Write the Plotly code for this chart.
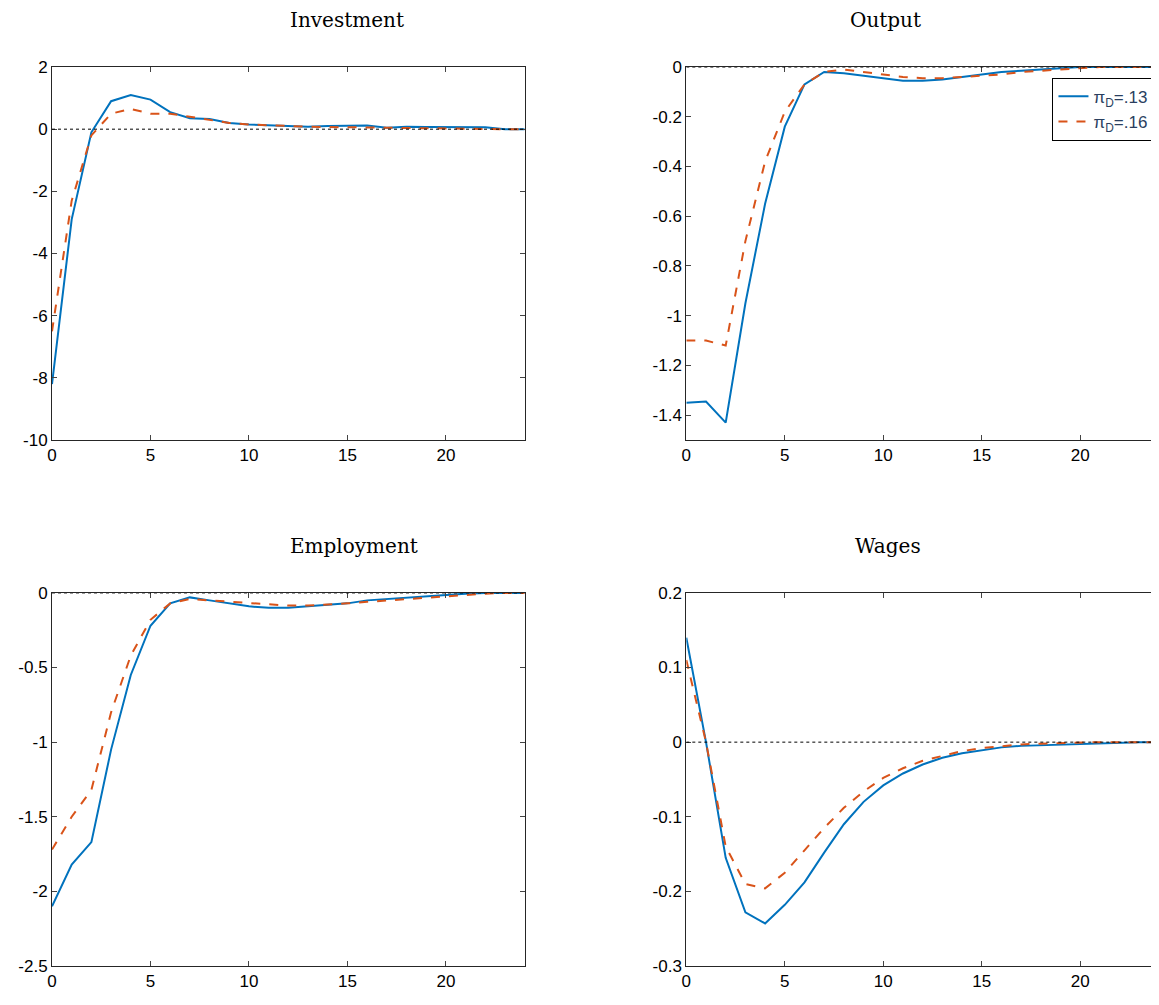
import plotly.graph_objects as go

t = list(range(25))

inv_13 = [-8.2, -2.9, -0.1, 0.9, 1.1, 0.95, 0.55, 0.35, 0.33, 0.2, 0.15, 0.12, 0.1, 0.08, 0.1, 0.12, 0.12, 0.05, 0.08, 0.07, 0.07, 0.07, 0.06, 0.0, 0.0]
inv_16 = [-6.5, -2.3, -0.2, 0.5, 0.65, 0.5, 0.5, 0.4, 0.28, 0.2, 0.15, 0.12, 0.1, 0.08, 0.07, 0.06, 0.05, 0.04, 0.04, 0.03, 0.02, 0.02, 0.01, 0.0, 0.0]
out_13 = [-1.35, -1.345, -1.43, -0.95, -0.55, -0.24, -0.07, -0.02, -0.025, -0.035, -0.045, -0.055, -0.055, -0.05, -0.04, -0.03, -0.02, -0.015, -0.01, -0.005, 0, 0, 0, 0, 0]
out_16 = [-1.1, -1.1, -1.12, -0.7, -0.38, -0.18, -0.07, -0.02, -0.01, -0.02, -0.03, -0.04, -0.045, -0.045, -0.04, -0.035, -0.03, -0.02, -0.015, -0.01, -0.005, 0, 0, 0, 0]
emp_13 = [-2.1, -1.82, -1.67, -1.05, -0.55, -0.22, -0.07, -0.03, -0.05, -0.07, -0.09, -0.1, -0.1, -0.09, -0.08, -0.07, -0.05, -0.04, -0.03, -0.02, -0.01, -0.005, 0, 0, 0]
emp_16 = [-1.72, -1.5, -1.32, -0.8, -0.42, -0.18, -0.07, -0.04, -0.05, -0.06, -0.07, -0.08, -0.085, -0.085, -0.08, -0.07, -0.06, -0.05, -0.04, -0.03, -0.02, -0.01, -0.005, 0, 0]
wag_13 = [0.14, 0.0, -0.155, -0.228, -0.243, -0.218, -0.188, -0.148, -0.11, -0.08, -0.058, -0.042, -0.03, -0.021, -0.015, -0.011, -0.007, -0.005, -0.004, -0.003, -0.002, -0.002, -0.001, 0, 0]
wag_16 = [0.11, 0.0, -0.14, -0.19, -0.196, -0.175, -0.145, -0.115, -0.088, -0.066, -0.048, -0.035, -0.025, -0.018, -0.012, -0.008, -0.005, -0.003, -0.002, -0.001, 0, 0, 0, 0, 0]

titles = ["Investment", "Output", "Employment", "Wages"]
series = [(inv_13, inv_16), (out_13, out_16), (emp_13, emp_16), (wag_13, wag_16)]
yranges = [[-10, 2], [-1.5, 0], [-2.5, 0], [-0.3, 0.2]]
yticks = [
    [-10, -8, -6, -4, -2, 0, 2],
    [-1.4, -1.2, -1, -0.8, -0.6, -0.4, -0.2, 0],
    [-2.5, -2, -1.5, -1, -0.5, 0],
    [-0.3, -0.2, -0.1, 0, 0.1, 0.2],
]
xticks = [0, 5, 10, 15, 20]

BLUE = "#0072BD"
RED = "#D95319"

xdoms = [[0.0, 0.427], [0.573, 1.0]]
ydoms = [[0.585, 1.0], [0.0, 0.415]]

fig = go.Figure()
for i, (title, (a, b)) in enumerate(zip(titles, series)):
    n = i + 1
    xa = "x" if n == 1 else f"x{n}"
    ya = "y" if n == 1 else f"y{n}"
    fig.add_trace(go.Scatter(x=t, y=a, mode="lines", line=dict(color=BLUE, width=2),
                             name="π<sub>D</sub>=.13", showlegend=(n == 2), xaxis=xa, yaxis=ya))
    fig.add_trace(go.Scatter(x=t, y=b, mode="lines", line=dict(color=RED, width=2, dash="dash"),
                             name="π<sub>D</sub>=.16", showlegend=(n == 2), xaxis=xa, yaxis=ya))
    fig.add_shape(type="line", x0=0, x1=24, y0=0, y1=0, xref=xa, yref=ya,
                  line=dict(color="black", width=1, dash="dot"))
    col, row = i % 2, i // 2
    font = dict(size=17, family="Liberation Sans", color="black")
    ax = dict(domain=xdoms[col], range=[0, 24], tickvals=xticks, ticktext=[str(v) for v in xticks],
              ticks="inside", ticklen=5, showline=True, mirror="ticks", linecolor="#262626",
              showgrid=False, zeroline=False, tickfont=font, automargin=False, anchor=ya)
    ay = dict(domain=ydoms[row], range=yranges[i], tickvals=yticks[i],
              ticktext=[f"{v:g}" for v in yticks[i]], ticks="inside", ticklen=5,
              showline=True, mirror="ticks", linecolor="#262626", showgrid=False,
              zeroline=False, tickfont=font, automargin=False, anchor=xa)
    fig.update_layout({("xaxis" if n == 1 else f"xaxis{n}"): ax,
                       ("yaxis" if n == 1 else f"yaxis{n}"): ay})
    fig.add_annotation(text=title, x=sum(xdoms[col]) / 2, y=ydoms[row][1] + 0.037,
                       xref="paper", yref="paper", showarrow=False, yanchor="bottom",
                       font=dict(size=20, family="DejaVu Serif", color="black"))

fig.update_layout(
    width=1151, height=997, margin=dict(l=44, r=0, t=59, b=39),
    plot_bgcolor="white", paper_bgcolor="white",
    legend=dict(x=0.995, y=0.988, xanchor="right", yanchor="top", bordercolor="black",
                borderwidth=1, bgcolor="white", font=dict(size=17, family="Liberation Sans")),
)
fig.write_html("out.html")
